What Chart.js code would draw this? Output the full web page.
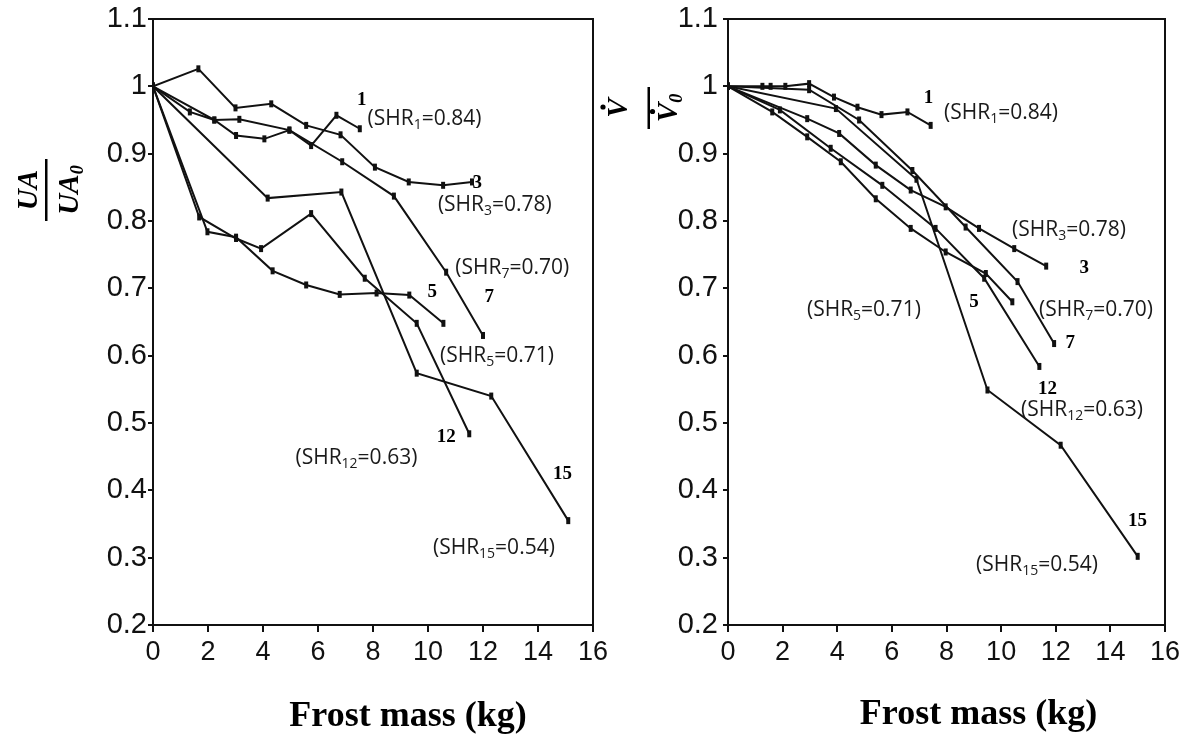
<!DOCTYPE html>
<html>
<head>
<meta charset="utf-8">
<script src="https://cdn.jsdelivr.net/npm/chart.js@4.4.1/dist/chart.umd.min.js"></script>
<style>
  html, body { margin: 0; padding: 0; background: #fff; }
  #wrap { position: relative; width: 1195px; height: 734px; }
  .panel { position: absolute; top: 0; height: 734px; }
  #left { left: 0; width: 615px; }
  #right { left: 600px; width: 595px; }
</style>
</head>
<body>
<div id="wrap">
  <div class="panel" id="left"><canvas id="uaChart"></canvas></div>
  <div class="panel" id="right"><canvas id="flowChart"></canvas></div>
</div>
<script>
// axis ticks
const xTicks = [0, 2, 4, 6, 8, 10, 12, 14, 16];
const yTicks = [0.2, 0.3, 0.4, 0.5, 0.6, 0.7, 0.8, 0.9, 1, 1.1];

// series names (test numbers) and SHR values
const runs = ['1', '3', '5', '7', '12', '15'];
const shr = ['0.84', '0.78', '0.71', '0.70', '0.63', '0.54'];

// UA / UA0 vs frost mass
const uaX1 = [0, 1.34, 2.23, 3.02, 4.05, 4.96, 5.75, 6.67, 7.52];
const uaY1 = [1, 0.962, 0.95, 0.927, 0.922, 0.935, 0.912, 0.957, 0.937];
const uaX3 = [0, 1.65, 3.0, 4.3, 5.57, 6.82, 8.07, 9.3, 10.55, 11.6];
const uaY3 = [1, 1.026, 0.968, 0.974, 0.942, 0.928, 0.88, 0.858, 0.853, 0.858];
const uaX5 = [0, 1.98, 3.02, 4.35, 5.57, 6.79, 8.13, 9.32, 10.56];
const uaY5 = [1, 0.784, 0.776, 0.726, 0.705, 0.691, 0.693, 0.69, 0.648];
const uaX7 = [0, 2.23, 3.14, 4.96, 6.88, 8.76, 10.66, 12.0];
const uaY7 = [1, 0.95, 0.951, 0.935, 0.888, 0.837, 0.724, 0.63];
const uaX12 = [0, 1.68, 3.02, 3.93, 5.75, 7.7, 9.59, 11.5];
const uaY12 = [1, 0.806, 0.774, 0.759, 0.811, 0.715, 0.648, 0.484];
const uaX15 = [0, 4.17, 6.85, 9.59, 12.3, 15.1];
const uaY15 = [1, 0.834, 0.843, 0.574, 0.54, 0.355];

// V / V0 (air flow) vs frost mass
const vX1 = [0, 1.26, 1.56, 2.1, 2.97, 3.88, 4.74, 5.62, 6.57, 7.42];
const vY1 = [1, 1.0, 1.0, 1.0, 1.004, 0.984, 0.969, 0.958, 0.962, 0.942];
const vX3 = [0, 2.9, 4.07, 5.41, 6.69, 7.97, 9.19, 10.48, 11.65];
const vY3 = [1, 0.952, 0.93, 0.883, 0.846, 0.821, 0.789, 0.759, 0.733];
const vX5 = [0, 1.62, 2.9, 4.13, 5.41, 6.69, 7.97, 9.44, 10.41];
const vY5 = [1, 0.962, 0.925, 0.888, 0.833, 0.789, 0.754, 0.722, 0.68];
const vX7 = [0, 2.97, 4.8, 6.75, 8.7, 10.6, 11.94];
const vY7 = [1, 0.995, 0.95, 0.875, 0.791, 0.71, 0.618];
const vX12 = [0, 1.9, 3.76, 5.65, 7.6, 9.38, 11.4];
const vY12 = [1, 0.965, 0.908, 0.853, 0.789, 0.715, 0.584];
const vX15 = [0, 3.95, 6.9, 9.5, 12.18, 15.0];
const vY15 = [1, 0.967, 0.862, 0.549, 0.467, 0.302];

// where the text notes sit, in data units
const uaNotes = [[7.8, 0.952], [10.36, 0.823], [10.44, 0.599], [10.99, 0.73], [5.18, 0.448], [10.18, 0.315]];
const uaTags = [[7.59, 0.979], [11.79, 0.856], [10.15, 0.694], [12.23, 0.687], [10.66, 0.479], [14.89, 0.424]];
const vNotes = [[7.91, 0.961], [10.4, 0.786], [2.89, 0.668], [11.39, 0.668], [10.73, 0.519], [9.08, 0.289]];
const vTags = [[7.34, 0.982], [13.04, 0.73], [9.01, 0.68], [12.53, 0.619], [11.7, 0.551], [14.99, 0.354]];

Chart.defaults.font.family = '"Liberation Sans", Arial, sans-serif';
Chart.defaults.color = '#000';

function pts(xs, ys) {
    return xs.map((v, i) => ({ x: v, y: ys[i] }));
}

function makeSets(list) {
    return list.map((s, i) => ({
        label: runs[i],
        data: pts(s[0], s[1]),
        borderColor: '#111',
        backgroundColor: '#111',
        borderWidth: 2,
        tension: 0,
        pointStyle: 'line',
        pointRotation: 90,
        pointRadius: 3.5,
        pointBorderWidth: 4,
        pointBorderColor: '#111'
    }));
}

function fracLabel(ctx, cx, cy, kind) {
    ctx.save();
    ctx.translate(cx, cy);
    ctx.rotate(-Math.PI / 2);
    ctx.fillStyle = '#000';
    ctx.textBaseline = 'alphabetic';
    ctx.textAlign = 'left';
    const big = 'italic bold 29px "Liberation Serif"';
    const small = 'italic bold 18px "Liberation Serif"';
    if (kind === 'UA') {
        ctx.font = big;
        let w = ctx.measureText('UA').width;
        ctx.fillText('UA', -w / 2, -10);
        ctx.font = small;
        const w0 = ctx.measureText('0').width;
        ctx.font = big;
        const start = -(w + w0) / 2;
        ctx.fillText('UA', start, 31);
        ctx.font = small;
        ctx.fillText('0', start + w, 36);
        ctx.fillRect(-31, -2, 62, 2.5);
    } else {
        ctx.font = big;
        let w = ctx.measureText('V').width;
        ctx.fillText('V', -w / 2, -22);
        ctx.beginPath(); ctx.arc(1, -46, 2.6, 0, Math.PI * 2); ctx.fill();
        ctx.font = small;
        const w0 = ctx.measureText('0').width;
        ctx.font = big;
        const start = -(w + w0) / 2;
        ctx.fillText('V', start, 28);
        ctx.beginPath(); ctx.arc(start + w / 2 + 1, 3.5, 2.6, 0, Math.PI * 2); ctx.fill();
        ctx.font = small;
        ctx.fillText('0', start + w, 33);
        ctx.fillRect(-21, -1.5, 42, 2.5);
    }
    ctx.restore();
}

const notesPlugin = {
    id: 'notes',
    afterDatasetsDraw(chart, args, opts) {
        const { ctx, chartArea: a } = chart;
        const xs = chart.scales.x, ys = chart.scales.y;
        ctx.save();
        ctx.strokeStyle = '#111';
        ctx.lineWidth = 2;
        ctx.strokeRect(a.left, a.top, a.right - a.left, a.bottom - a.top);

        ctx.fillStyle = '#1a1a1a';
        ctx.textBaseline = 'middle';
        ctx.textAlign = 'left';
        opts.notes.forEach((n, i) => {
            let px = xs.getPixelForValue(n[0]);
            const py = ys.getPixelForValue(n[1]);
            ctx.font = '21px "Open Sans"';
            ctx.fillText('(SHR', px, py);
            px += ctx.measureText('(SHR').width;
            ctx.font = '14px "Open Sans"';
            ctx.fillText(runs[i], px, py + 6);
            px += ctx.measureText(runs[i]).width;
            ctx.font = '21px "Open Sans"';
            ctx.fillText('=' + shr[i] + ')', px, py);
        });

        ctx.fillStyle = '#000';
        ctx.textAlign = 'center';
        ctx.font = 'bold 19px "Liberation Serif"';
        opts.tags.forEach((t, i) => {
            ctx.fillText(runs[i], xs.getPixelForValue(t[0]), ys.getPixelForValue(t[1]));
        });

        ctx.font = 'bold 36px "Liberation Serif"';
        ctx.fillText('Frost mass (kg)', (a.left + a.right) / 2 + opts.titleShift, opts.titleY);

        fracLabel(ctx, opts.labelX, opts.labelY, opts.kind);
        ctx.restore();
    }
};

function makeChart(id, sets, cfg) {
    return new Chart(document.getElementById(id), {
        type: 'line',
        data: { datasets: makeSets(sets) },
        options: {
            responsive: true,
            maintainAspectRatio: false,
            animation: false,
            layout: { padding: { top: 19, right: cfg.padRight, bottom: 0, left: 0 } },
            plugins: {
                legend: { display: false },
                tooltip: { enabled: false },
                notes: cfg.notes
            },
            scales: {
                x: {
                    type: 'linear',
                    min: 0,
                    max: 16,
                    afterBuildTicks: s => { s.ticks = xTicks.map(v => ({ value: v })); },
                    afterFit: s => { s.height = 109; s.paddingLeft = 0; s.paddingRight = 0; },
                    grid: { drawOnChartArea: false, drawTicks: true, tickLength: 7, color: '#111', lineWidth: 2 },
                    border: { display: true, color: '#111', width: 2 },
                    ticks: { font: { size: 27 }, padding: 4, maxRotation: 0, color: '#111' }
                },
                y: {
                    type: 'linear',
                    min: 0.2,
                    max: 1.1,
                    afterBuildTicks: s => { s.ticks = yTicks.map(v => ({ value: v })); },
                    afterFit: s => { s.width = cfg.yWidth; s.paddingTop = 0; s.paddingBottom = 0; },
                    grid: { drawOnChartArea: false, drawTicks: true, tickLength: 5, color: '#111', lineWidth: 2 },
                    border: { display: true, color: '#111', width: 2 },
                    ticks: {
                        font: { size: 29 },
                        padding: cfg.tickPad,
                        color: '#111',
                        callback: v => String(Math.round(v * 10) / 10)
                    }
                }
            }
        },
        plugins: [notesPlugin]
    });
}

makeChart('uaChart', [
    [uaX1, uaY1], [uaX3, uaY3], [uaX5, uaY5], [uaX7, uaY7], [uaX12, uaY12], [uaX15, uaY15]
], {
    padRight: 22,
    yWidth: 153,
    tickPad: 1,
    notes: { notes: uaNotes, tags: uaTags, titleShift: 35, titleY: 717, labelX: 47, labelY: 190, kind: 'UA' }
});

makeChart('flowChart', [
    [vX1, vY1], [vX3, vY3], [vX5, vY5], [vX7, vY7], [vX12, vY12], [vX15, vY15]
], {
    padRight: 30,
    yWidth: 128,
    tickPad: 5,
    notes: { notes: vNotes, tags: vTags, titleShift: 32, titleY: 715, labelX: 49, labelY: 108, kind: 'V' }
});
</script>
</body>
</html>
